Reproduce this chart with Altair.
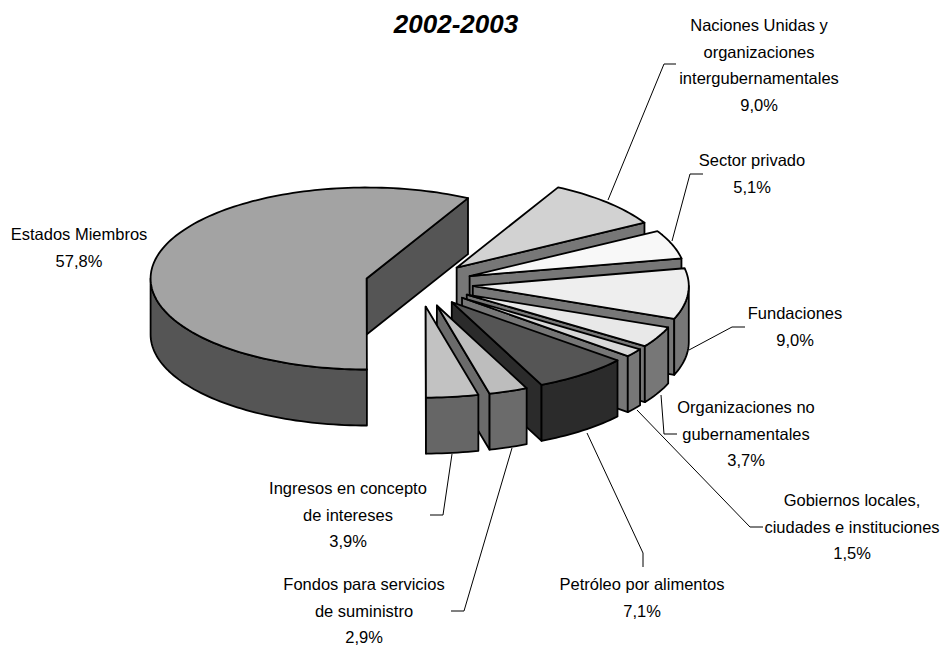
import math
import altair as alt
import pandas as pd

# --- data ---
names = ["Estados Miembros", "Naciones Unidas y\norganizaciones\nintergubernamentales",
         "Sector privado", "Fundaciones", "Organizaciones no\ngubernamentales",
         "Gobiernos locales,\nciudades e instituciones", "Petróleo por alimentos",
         "Fondos para servicios\nde suministro", "Ingresos en concepto\nde intereses"]
shares = [57.8, 9.0, 5.1, 9.0, 3.7, 1.5, 7.1, 2.9, 3.9]
share_labels = ["57,8%", "9,0%", "5,1%", "9,0%", "3,7%", "1,5%", "7,1%", "2,9%", "3,9%"]
top_colors = ["#A3A3A3", "#D2D2D2", "#F8F8F8", "#EEEEEE", "#E8E8E8", "#D8D8D8", "#555555", "#BDBDBD", "#C2C2C2"]
side_colors = ["#555555", "#777777", "#777777", "#777777", "#777777", "#777777", "#2B2B2B", "#6B6B6B", "#666666"]

# --- label anchors (page pixels) ---
label_x = [79, 759, 752, 795, 746, 852, 642, 364, 348]
label_y = [235, 26, 161, 314, 408, 501, 585, 585, 489]
leaders = [
    None,
    [(608, 200), (664, 64), (676, 64)],
    [(672, 241), (690, 174), (703, 174)],
    [(689, 350), (732, 327), (745, 327)],
    [(661, 395), (664, 434), (677, 434)],
    [(637, 410), (750, 527), (763, 527)],
    [(587, 433), (643, 553), (643, 567)],
    [(512, 448), (464, 611), (451, 611)],
    [(452, 454), (443, 515), (430, 515)],
]

# --- pie geometry ---
M = 8
CX, CY, A, B, DEPTH = 419 - M, 284 - M, 216, 91, 56
EXPLODE = 0.25
START = 28.0


def pt(t, ox, oy):
    r = math.radians(t)
    return [ox + A * math.sin(r), oy - B * math.cos(r)]


def arc(t1, t2, ox, oy):
    n = max(2, int(abs(t2 - t1) / 1.5) + 1)
    return [pt(t1 + (t2 - t1) * i / n, ox, oy) for i in range(n + 1)]


def feature(ring, color, order):
    return {"type": "Feature",
            "geometry": {"type": "Polygon", "coordinates": [ring + [ring[0]]]},
            "properties": {"color": color, "order": order}}


# Estados Miembros runs last round the circle, the others follow clockwise from START
spans = []
t = START
for s in shares[1:]:
    spans.append((t, t + s * 3.6))
    t += s * 3.6
spans = [(t, t + shares[0] * 3.6)] + spans

features = []
for i, (t1, t2) in enumerate(spans):
    mid = math.radians((t1 + t2) / 2)
    ox = CX + EXPLODE * A * math.sin(mid)
    oy = CY - EXPLODE * B * math.cos(mid)
    side, top = side_colors[i], top_colors[i]
    # visible radial cut face
    end_sin = math.sin(math.radians(t2))
    if end_sin > 0:
        p = pt(t2, ox, oy)
        features.append(feature([[ox, oy], p, [p[0], p[1] + DEPTH], [ox, oy + DEPTH]], side, len(features)))
    # visible outer wall (front half of the ellipse)
    a1, a2 = max(t1, 90), min(t2, 270)
    if a2 > a1:
        upper = arc(a1, a2, ox, oy)
        lower = [[x, y + DEPTH] for x, y in reversed(upper)]
        features.append(feature(upper + lower, side, len(features)))
    features.append(feature([[ox, oy]] + arc(t1, t2, ox, oy), top, len(features)))

W, H = 932, 638

pie = (alt.Chart(alt.Data(values=features))
       .mark_geoshape(stroke="black", strokeWidth=1.8, strokeJoin="round", filled=True)
       .encode(fill=alt.Color("properties.color:N", scale=None, legend=None))
       .project(type="identity", scale=1, translate=[0, 0]))

rows = []
for i, seg in enumerate(leaders):
    if seg:
        for j, (x, y) in enumerate(seg):
            rows.append({"id": i, "k": j, "x": x - M, "y": y - M})
lead = (alt.Chart(pd.DataFrame(rows))
        .mark_line(color="black", strokeWidth=1)
        .encode(x=alt.X("x:Q", scale=None), y=alt.Y("y:Q", scale=None), detail="id:N", order="k:Q"))

labels = pd.DataFrame({
    "text": [n + "\n" + s for n, s in zip(names, share_labels)],
    "x": [v - M for v in label_x],
    "y": [v - M for v in label_y],
})
text = (alt.Chart(labels)
        .mark_text(font="Liberation Sans", fontSize=16.5, color="black", align="center",
                   baseline="middle", lineBreak="\n", lineHeight=26.5)
        .encode(x=alt.X("x:Q", scale=None), y=alt.Y("y:Q", scale=None), text="text:N"))

title = (alt.Chart(pd.DataFrame({"t": ["2002-2003"], "x": [456 - M], "y": [33 - M]}))
         .mark_text(font="Liberation Sans", fontSize=26, fontWeight="bold", fontStyle="italic",
                    color="black", align="center", baseline="alphabetic")
         .encode(x=alt.X("x:Q", scale=None), y=alt.Y("y:Q", scale=None), text="t:N"))

chart = (alt.layer(lead, pie, text, title)
         .properties(width=W, height=H, padding=0, autosize=alt.AutoSizeParams(type="none"))
         .configure_view(stroke=None)
         .configure_axis(disable=True))

chart.save("out.html", embed_options={"renderer": "svg", "actions": False})
